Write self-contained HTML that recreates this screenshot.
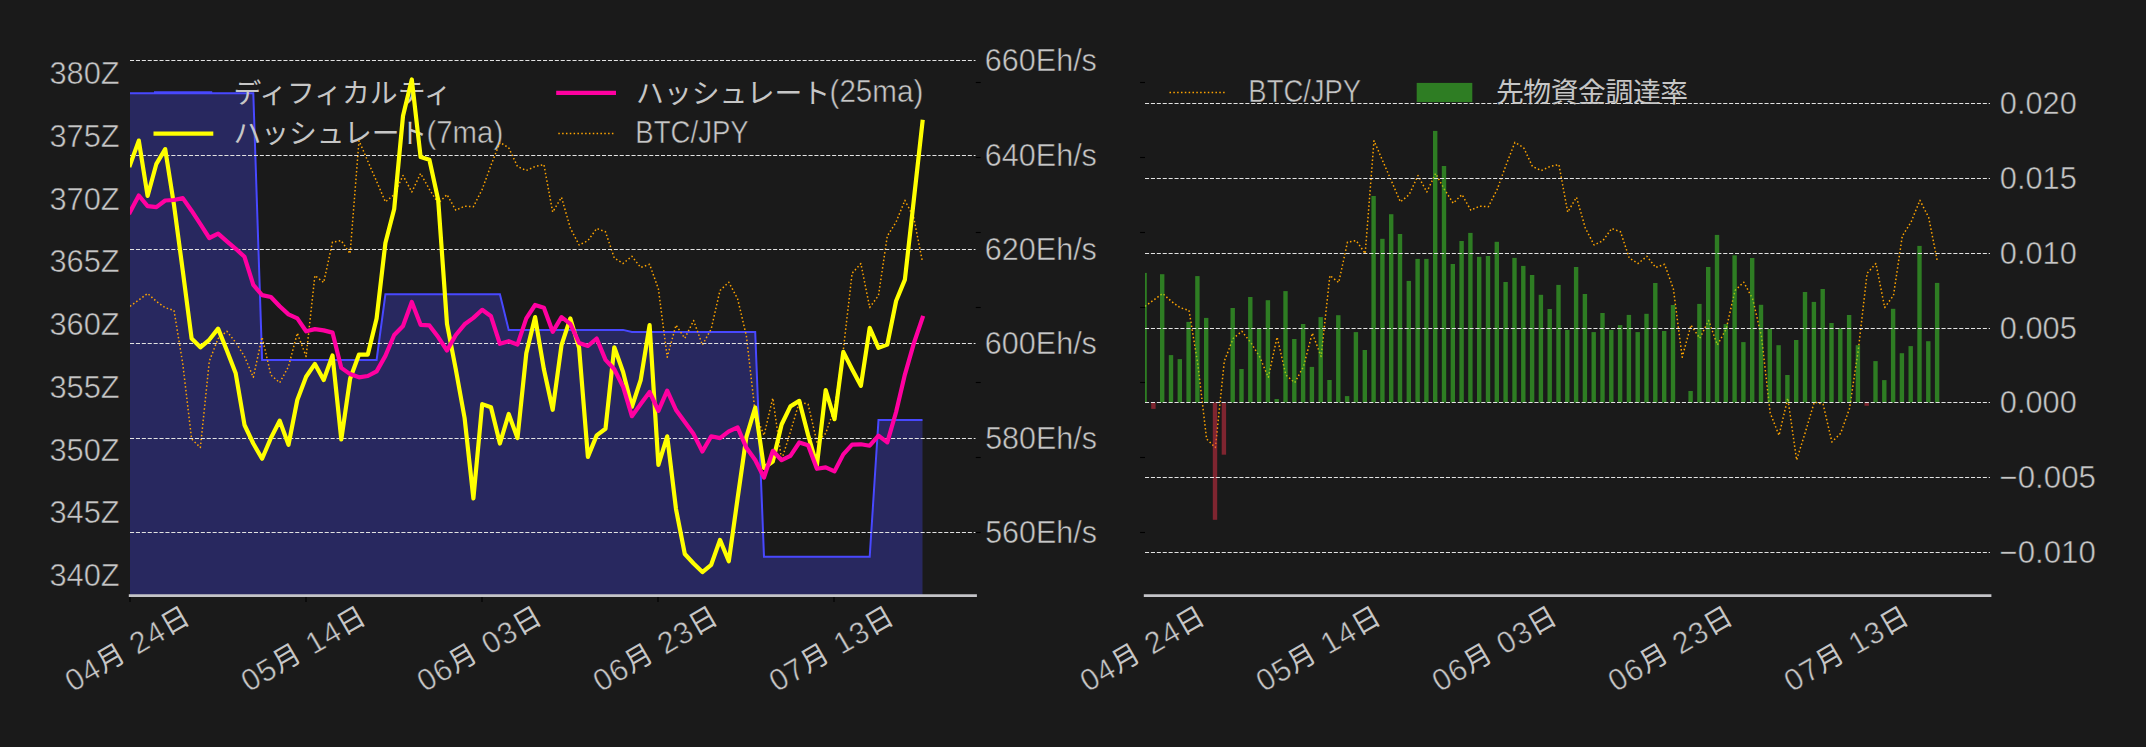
<!DOCTYPE html>
<html lang="ja"><head><meta charset="utf-8"><title>chart</title>
<style>
html,body{margin:0;padding:0;background:#1a1a1a;}
body{width:2146px;height:747px;overflow:hidden;}
svg{display:block;}
text{font-family:"Liberation Sans","Noto Sans CJK JP",sans-serif;fill:#c6c6c6;}
.j{font-family:"Liberation Sans","Noto Sans CJK JP",sans-serif;font-size:27.8px;}
.l{font-size:30.5px;stroke:#1a1a1a;stroke-width:0.5px;paint-order:fill stroke;}
.g{stroke:#e2e2e2;stroke-width:1;stroke-dasharray:4.1 1.8;fill:none;}
.tk{stroke:#000;stroke-width:1.1;}
.b{stroke:#ffa500;stroke-width:1.5;stroke-dasharray:1.5 2.33;fill:none;stroke-linejoin:round;}
</style></head><body>
<svg width="2146" height="747" viewBox="0 0 2146 747">
<rect width="2146" height="747" fill="#1a1a1a"/>
<defs>
<clipPath id="cl"><rect x="130.0" y="40" width="845.5" height="555.6"/></clipPath>
<clipPath id="cr"><rect x="1145.0" y="40" width="845.0" height="555.6"/></clipPath>
</defs>

<g clip-path="url(#cl)">
<polygon points="130.0,595.6 130.0,93.2 138.8,93.2 147.6,93.2 156.4,93.2 165.2,93.2 174.0,93.2 182.8,93.2 191.6,93.2 200.4,93.2 209.3,93.2 218.1,93.2 226.9,93.2 235.7,93.2 244.5,93.2 253.3,93.2 262.1,359.9 270.9,359.9 279.7,359.9 288.5,359.9 297.3,359.9 306.1,359.9 314.9,359.9 323.7,359.9 332.5,359.9 341.3,359.9 350.1,359.9 359.0,359.9 367.8,359.9 376.6,359.9 385.4,294.3 394.2,294.3 403.0,294.3 411.8,294.3 420.6,294.3 429.4,294.3 438.2,294.3 447.0,294.3 455.8,294.3 464.6,294.3 473.4,294.3 482.2,294.3 491.0,294.3 499.9,294.3 508.7,329.9 517.5,329.9 526.3,329.9 535.1,329.9 543.9,329.9 552.7,329.9 561.5,329.9 570.3,329.9 579.1,329.9 587.9,329.9 596.7,329.9 605.5,329.9 614.3,329.9 623.1,329.9 631.9,332.0 640.7,332.0 649.6,332.0 658.4,332.0 667.2,332.0 676.0,332.0 684.8,332.0 693.6,332.0 702.4,332.0 711.2,332.0 720.0,332.0 728.8,332.0 737.6,332.0 746.4,332.0 755.2,332.0 764.0,556.8 772.8,556.8 781.6,556.8 790.4,556.8 799.3,556.8 808.1,556.8 816.9,556.8 825.7,556.8 834.5,556.8 843.3,556.8 852.1,556.8 860.9,556.8 869.7,556.8 878.5,420.0 887.3,420.0 896.1,420.0 904.9,420.0 913.7,420.0 922.5,420.0 922.5,595.6" fill="#4a48ff" fill-opacity="0.30"/>
<polyline points="130.0,93.2 138.8,93.2 147.6,93.2 156.4,93.2 165.2,93.2 174.0,93.2 182.8,93.2 191.6,93.2 200.4,93.2 209.3,93.2 218.1,93.2 226.9,93.2 235.7,93.2 244.5,93.2 253.3,93.2 262.1,359.9 270.9,359.9 279.7,359.9 288.5,359.9 297.3,359.9 306.1,359.9 314.9,359.9 323.7,359.9 332.5,359.9 341.3,359.9 350.1,359.9 359.0,359.9 367.8,359.9 376.6,359.9 385.4,294.3 394.2,294.3 403.0,294.3 411.8,294.3 420.6,294.3 429.4,294.3 438.2,294.3 447.0,294.3 455.8,294.3 464.6,294.3 473.4,294.3 482.2,294.3 491.0,294.3 499.9,294.3 508.7,329.9 517.5,329.9 526.3,329.9 535.1,329.9 543.9,329.9 552.7,329.9 561.5,329.9 570.3,329.9 579.1,329.9 587.9,329.9 596.7,329.9 605.5,329.9 614.3,329.9 623.1,329.9 631.9,332.0 640.7,332.0 649.6,332.0 658.4,332.0 667.2,332.0 676.0,332.0 684.8,332.0 693.6,332.0 702.4,332.0 711.2,332.0 720.0,332.0 728.8,332.0 737.6,332.0 746.4,332.0 755.2,332.0 764.0,556.8 772.8,556.8 781.6,556.8 790.4,556.8 799.3,556.8 808.1,556.8 816.9,556.8 825.7,556.8 834.5,556.8 843.3,556.8 852.1,556.8 860.9,556.8 869.7,556.8 878.5,420.0 887.3,420.0 896.1,420.0 904.9,420.0 913.7,420.0 922.5,420.0" fill="none" stroke="#4848ff" stroke-width="2" stroke-linejoin="miter"/>
</g>
<line x1="155" x2="211.2" y1="92.3" y2="92.3" stroke="#4848ff" stroke-width="2" stroke-linecap="square"/>
<line x1="155.6" x2="211.2" y1="133.7" y2="133.7" stroke="#ffff00" stroke-width="4.2" stroke-linecap="square"/>
<line x1="558.3" x2="613.9" y1="92.9" y2="92.9" stroke="#ff00a0" stroke-width="4.2" stroke-linecap="square"/>
<line class="b" x1="558.3" x2="613.9" y1="133.6" y2="133.6"/>
<text class="j" x="233.4" y="102.6">ディフィカルティ</text>
<text class="j" x="233.4" y="143.4">ハッシュレート</text>
<text class="l" x="426.48" y="142.90" textLength="76.74" lengthAdjust="spacingAndGlyphs">(7ma)</text>
<text class="j" x="636.1" y="102.6">ハッシュレート</text>
<text class="l" x="829.56" y="102.10" textLength="93.77" lengthAdjust="spacingAndGlyphs">(25ma)</text>
<text class="l" x="635.34" y="142.70" textLength="113.37" lengthAdjust="spacingAndGlyphs">BTC/JPY</text>
<g clip-path="url(#cl)">
<polyline class="b" points="130.0,306.3 138.8,300.0 147.6,293.5 156.4,301.4 165.2,307.7 174.0,310.4 182.8,364.0 191.6,439.0 200.4,447.5 209.3,361.3 218.1,338.5 226.9,331.3 235.7,342.5 244.5,356.5 253.3,377.3 262.1,337.1 270.9,375.0 279.7,382.7 288.5,366.6 297.3,333.1 306.1,356.5 314.9,275.5 323.7,282.5 332.5,242.0 341.3,240.7 350.1,253.6 359.0,140.7 367.8,161.2 376.6,181.3 385.4,201.9 394.2,194.6 403.0,175.5 411.8,192.0 420.6,173.5 429.4,189.3 438.2,203.2 447.0,194.6 455.8,210.2 464.6,206.2 473.4,206.7 482.2,189.3 491.0,165.2 499.9,142.4 508.7,147.8 517.5,166.5 526.3,170.5 535.1,166.5 543.9,164.6 552.7,212.1 561.5,197.3 570.3,228.0 579.1,245.0 587.9,240.7 596.7,228.5 605.5,231.8 614.3,258.1 623.1,263.5 631.9,256.3 640.7,267.5 649.6,264.3 658.4,288.9 667.2,357.2 676.0,325.1 684.8,338.3 693.6,320.5 702.4,345.0 711.2,329.0 720.0,290.5 728.8,282.2 737.6,298.8 746.4,336.0 755.2,413.0 764.0,435.4 772.8,398.2 781.6,460.0 790.4,432.0 799.3,402.0 808.1,404.2 816.9,442.0 825.7,433.3 834.5,408.5 843.3,350.0 852.1,273.3 860.9,263.5 869.7,307.5 878.5,295.4 887.3,236.0 896.1,222.0 904.9,200.3 913.7,217.5 922.5,262.0"/>
</g>
<line class="g" x1="130.0" x2="975.5" y1="532.5" y2="532.5"/>
<line class="g" x1="130.0" x2="975.5" y1="438.5" y2="438.5"/>
<line class="g" x1="130.0" x2="975.5" y1="343.5" y2="343.5"/>
<line class="g" x1="130.0" x2="975.5" y1="249.5" y2="249.5"/>
<line class="g" x1="130.0" x2="975.5" y1="155.5" y2="155.5"/>
<line class="g" x1="130.0" x2="975.5" y1="60.5" y2="60.5"/>
<g clip-path="url(#cl)">
<polyline points="130.0,165.0 138.8,140.6 147.6,196.0 156.4,163.8 165.2,149.1 174.0,205.0 182.8,271.0 191.6,338.5 200.4,347.3 209.3,339.8 218.1,328.6 226.9,350.5 235.7,373.3 244.5,425.0 253.3,443.5 262.1,458.8 270.9,438.0 279.7,420.7 288.5,444.8 297.3,400.0 306.1,376.8 314.9,363.9 323.7,380.0 332.5,355.4 341.3,439.5 350.1,378.7 359.0,354.6 367.8,354.6 376.6,318.4 385.4,243.0 394.2,209.0 403.0,116.0 411.8,79.5 420.6,157.1 429.4,159.8 438.2,200.0 447.0,323.8 455.8,369.3 464.6,418.0 473.4,498.4 482.2,404.1 491.0,407.3 499.9,443.5 508.7,414.0 517.5,438.1 526.3,353.2 535.1,317.1 543.9,369.3 552.7,409.8 561.5,345.2 570.3,318.4 579.1,347.9 587.9,456.9 596.7,435.4 605.5,428.8 614.3,347.3 623.1,372.0 631.9,406.8 640.7,380.0 649.6,325.1 658.4,464.9 667.2,436.3 676.0,509.1 684.8,554.0 693.6,563.5 702.4,572.1 711.2,564.8 720.0,539.9 728.8,561.3 737.6,498.4 746.4,436.8 755.2,407.5 764.0,468.0 772.8,461.5 781.6,424.5 790.4,406.4 799.3,400.9 808.1,435.0 816.9,465.3 825.7,390.0 834.5,419.2 843.3,351.9 852.1,369.3 860.9,385.8 869.7,327.8 878.5,347.9 887.3,344.6 896.1,301.0 904.9,279.6 913.7,201.0 922.5,121.8" fill="none" stroke="#ffff00" stroke-width="4.2" stroke-linejoin="round" stroke-linecap="square"/>
<polyline points="130.0,212.1 138.8,195.5 147.6,206.2 156.4,207.2 165.2,200.5 174.0,200.0 182.8,198.1 191.6,210.7 200.4,224.1 209.3,238.0 218.1,233.6 226.9,241.3 235.7,248.8 244.5,256.8 253.3,284.9 262.1,295.1 270.9,297.0 279.7,306.3 288.5,314.4 297.3,318.4 306.1,331.3 314.9,329.1 323.7,330.4 332.5,332.6 341.3,367.9 350.1,374.1 359.0,377.3 367.8,376.0 376.6,371.4 385.4,355.9 394.2,335.0 403.0,326.0 411.8,302.0 420.6,324.8 429.4,325.4 438.2,337.1 447.0,350.5 455.8,335.0 464.6,324.3 473.4,317.9 482.2,309.8 491.0,316.3 499.9,343.8 508.7,341.2 517.5,344.6 526.3,318.4 535.1,305.0 543.9,307.7 552.7,331.8 561.5,317.1 570.3,323.8 579.1,343.0 587.9,346.0 596.7,338.5 605.5,359.9 614.3,369.3 623.1,386.7 631.9,416.2 640.7,404.1 649.6,392.0 658.4,410.8 667.2,390.7 676.0,410.0 684.8,422.0 693.6,434.1 702.4,451.5 711.2,436.3 720.0,438.1 728.8,431.4 737.6,427.4 746.4,447.8 755.2,460.0 764.0,477.5 772.8,450.8 781.6,460.2 790.4,455.9 799.3,442.5 808.1,445.2 816.9,468.8 825.7,467.4 834.5,471.4 843.3,454.4 852.1,444.7 860.9,444.3 869.7,445.7 878.5,435.6 887.3,442.4 896.1,412.0 904.9,374.6 913.7,343.8 922.5,317.9" fill="none" stroke="#ff00a0" stroke-width="4.2" stroke-linejoin="round" stroke-linecap="square"/>
</g>
<line x1="128.8" x2="976.9" y1="595.6" y2="595.6" stroke="#c4c4c8" stroke-width="2.8"/>
<line x1="1143.8" x2="1991.4" y1="595.6" y2="595.6" stroke="#c4c4c8" stroke-width="2.8"/>
<line class="tk" x1="130.0" x2="130.0" y1="597.0" y2="601.9"/>
<text class="j" x="127.2" y="648.4" text-anchor="middle" dominant-baseline="central" textLength="138.6" lengthAdjust="spacing" transform="rotate(-30 127.2 648.4)"><tspan class="l">04</tspan>月<tspan class="l"> 24</tspan>日</text>
<line class="tk" x1="306.0" x2="306.0" y1="597.0" y2="601.9"/>
<text class="j" x="303.2" y="648.4" text-anchor="middle" dominant-baseline="central" textLength="138.6" lengthAdjust="spacing" transform="rotate(-30 303.2 648.4)"><tspan class="l">05</tspan>月<tspan class="l"> 14</tspan>日</text>
<line class="tk" x1="482.0" x2="482.0" y1="597.0" y2="601.9"/>
<text class="j" x="479.2" y="648.4" text-anchor="middle" dominant-baseline="central" textLength="138.6" lengthAdjust="spacing" transform="rotate(-30 479.2 648.4)"><tspan class="l">06</tspan>月<tspan class="l"> 03</tspan>日</text>
<line class="tk" x1="658.0" x2="658.0" y1="597.0" y2="601.9"/>
<text class="j" x="655.2" y="648.4" text-anchor="middle" dominant-baseline="central" textLength="138.6" lengthAdjust="spacing" transform="rotate(-30 655.2 648.4)"><tspan class="l">06</tspan>月<tspan class="l"> 23</tspan>日</text>
<line class="tk" x1="834.0" x2="834.0" y1="597.0" y2="601.9"/>
<text class="j" x="831.2" y="648.4" text-anchor="middle" dominant-baseline="central" textLength="138.6" lengthAdjust="spacing" transform="rotate(-30 831.2 648.4)"><tspan class="l">07</tspan>月<tspan class="l"> 13</tspan>日</text>
<text class="j" x="1142.2" y="648.4" text-anchor="middle" dominant-baseline="central" textLength="138.6" lengthAdjust="spacing" transform="rotate(-30 1142.2 648.4)"><tspan class="l">04</tspan>月<tspan class="l"> 24</tspan>日</text>
<text class="j" x="1318.2" y="648.4" text-anchor="middle" dominant-baseline="central" textLength="138.6" lengthAdjust="spacing" transform="rotate(-30 1318.2 648.4)"><tspan class="l">05</tspan>月<tspan class="l"> 14</tspan>日</text>
<text class="j" x="1494.2" y="648.4" text-anchor="middle" dominant-baseline="central" textLength="138.6" lengthAdjust="spacing" transform="rotate(-30 1494.2 648.4)"><tspan class="l">06</tspan>月<tspan class="l"> 03</tspan>日</text>
<text class="j" x="1670.2" y="648.4" text-anchor="middle" dominant-baseline="central" textLength="138.6" lengthAdjust="spacing" transform="rotate(-30 1670.2 648.4)"><tspan class="l">06</tspan>月<tspan class="l"> 23</tspan>日</text>
<text class="j" x="1846.2" y="648.4" text-anchor="middle" dominant-baseline="central" textLength="138.6" lengthAdjust="spacing" transform="rotate(-30 1846.2 648.4)"><tspan class="l">07</tspan>月<tspan class="l"> 13</tspan>日</text>
<text class="l" x="49.43" y="84.20" textLength="70.24" lengthAdjust="spacingAndGlyphs">380Z</text>
<text class="l" x="49.43" y="146.93" textLength="70.24" lengthAdjust="spacingAndGlyphs">375Z</text>
<text class="l" x="49.43" y="209.66" textLength="70.24" lengthAdjust="spacingAndGlyphs">370Z</text>
<text class="l" x="49.43" y="272.39" textLength="70.24" lengthAdjust="spacingAndGlyphs">365Z</text>
<text class="l" x="49.43" y="335.12" textLength="70.24" lengthAdjust="spacingAndGlyphs">360Z</text>
<text class="l" x="49.43" y="397.85" textLength="70.24" lengthAdjust="spacingAndGlyphs">355Z</text>
<text class="l" x="49.43" y="460.58" textLength="70.24" lengthAdjust="spacingAndGlyphs">350Z</text>
<text class="l" x="49.43" y="523.31" textLength="70.24" lengthAdjust="spacingAndGlyphs">345Z</text>
<text class="l" x="49.43" y="586.04" textLength="70.24" lengthAdjust="spacingAndGlyphs">340Z</text>
<text class="l" x="984.85" y="71.10" textLength="112.05" lengthAdjust="spacingAndGlyphs">660Eh/s</text>
<text class="l" x="984.85" y="166.10" textLength="112.05" lengthAdjust="spacingAndGlyphs">640Eh/s</text>
<text class="l" x="984.85" y="260.10" textLength="112.05" lengthAdjust="spacingAndGlyphs">620Eh/s</text>
<text class="l" x="984.85" y="354.10" textLength="112.05" lengthAdjust="spacingAndGlyphs">600Eh/s</text>
<text class="l" x="985.18" y="449.10" textLength="111.72" lengthAdjust="spacingAndGlyphs">580Eh/s</text>
<text class="l" x="985.18" y="543.10" textLength="111.72" lengthAdjust="spacingAndGlyphs">560Eh/s</text>
<line class="tk" x1="975.8" x2="980.7" y1="82.5" y2="82.5"/>
<line class="tk" x1="1140.1" x2="1145.0" y1="82.5" y2="82.5"/>
<line class="tk" x1="975.8" x2="980.7" y1="157.5" y2="157.5"/>
<line class="tk" x1="1140.1" x2="1145.0" y1="157.5" y2="157.5"/>
<line class="tk" x1="975.8" x2="980.7" y1="232.5" y2="232.5"/>
<line class="tk" x1="1140.1" x2="1145.0" y1="232.5" y2="232.5"/>
<line class="tk" x1="975.8" x2="980.7" y1="307.5" y2="307.5"/>
<line class="tk" x1="1140.1" x2="1145.0" y1="307.5" y2="307.5"/>
<line class="tk" x1="975.8" x2="980.7" y1="382.5" y2="382.5"/>
<line class="tk" x1="1140.1" x2="1145.0" y1="382.5" y2="382.5"/>
<line class="tk" x1="975.8" x2="980.7" y1="457.5" y2="457.5"/>
<line class="tk" x1="1140.1" x2="1145.0" y1="457.5" y2="457.5"/>
<line class="tk" x1="975.8" x2="980.7" y1="532.5" y2="532.5"/>
<line class="tk" x1="1140.1" x2="1145.0" y1="532.5" y2="532.5"/>
<g clip-path="url(#cr)">
<polyline class="b" points="1145.0,306.3 1153.8,300.0 1162.6,293.5 1171.4,301.4 1180.2,307.7 1189.0,310.4 1197.8,364.0 1206.6,439.0 1215.4,447.5 1224.3,361.3 1233.1,338.5 1241.9,331.3 1250.7,342.5 1259.5,356.5 1268.3,377.3 1277.1,337.1 1285.9,375.0 1294.7,382.7 1303.5,366.6 1312.3,333.1 1321.1,356.5 1329.9,275.5 1338.7,282.5 1347.5,242.0 1356.3,240.7 1365.2,253.6 1374.0,140.7 1382.8,161.2 1391.6,181.3 1400.4,201.9 1409.2,194.6 1418.0,175.5 1426.8,192.0 1435.6,173.5 1444.4,189.3 1453.2,203.2 1462.0,194.6 1470.8,210.2 1479.6,206.2 1488.4,206.7 1497.2,189.3 1506.0,165.2 1514.9,142.4 1523.7,147.8 1532.5,166.5 1541.3,170.5 1550.1,166.5 1558.9,164.6 1567.7,212.1 1576.5,197.3 1585.3,228.0 1594.1,245.0 1602.9,240.7 1611.7,228.5 1620.5,231.8 1629.3,258.1 1638.1,263.5 1646.9,256.3 1655.7,267.5 1664.6,264.3 1673.4,288.9 1682.2,357.2 1691.0,325.1 1699.8,338.3 1708.6,320.5 1717.4,345.0 1726.2,329.0 1735.0,290.5 1743.8,282.2 1752.6,298.8 1761.4,336.0 1770.2,413.0 1779.0,435.4 1787.8,398.2 1796.6,460.0 1805.4,432.0 1814.3,402.0 1823.1,404.2 1831.9,442.0 1840.7,433.3 1849.5,408.5 1858.3,350.0 1867.1,273.3 1875.9,263.5 1884.7,307.5 1893.5,295.4 1902.3,236.0 1911.1,222.0 1919.9,200.3 1928.7,217.5 1937.5,262.0"/>
<rect x="1142.4" y="272.9" width="4.4" height="129.6" fill="#42e02c" fill-opacity="0.5"/>
<rect x="1151.2" y="402.5" width="4.4" height="6.4" fill="#e43046" fill-opacity="0.5"/>
<rect x="1160.0" y="274.2" width="4.4" height="128.3" fill="#42e02c" fill-opacity="0.5"/>
<rect x="1168.8" y="355.1" width="4.4" height="47.4" fill="#42e02c" fill-opacity="0.5"/>
<rect x="1177.6" y="359.1" width="4.4" height="43.4" fill="#42e02c" fill-opacity="0.5"/>
<rect x="1186.4" y="321.9" width="4.4" height="80.6" fill="#42e02c" fill-opacity="0.5"/>
<rect x="1195.2" y="276.1" width="4.4" height="126.4" fill="#42e02c" fill-opacity="0.5"/>
<rect x="1204.0" y="317.9" width="4.4" height="84.6" fill="#42e02c" fill-opacity="0.5"/>
<rect x="1212.8" y="402.5" width="4.4" height="117.3" fill="#e43046" fill-opacity="0.5"/>
<rect x="1221.7" y="402.5" width="4.4" height="52.2" fill="#e43046" fill-opacity="0.5"/>
<rect x="1230.5" y="308.0" width="4.4" height="94.5" fill="#42e02c" fill-opacity="0.5"/>
<rect x="1239.3" y="369.0" width="4.4" height="33.5" fill="#42e02c" fill-opacity="0.5"/>
<rect x="1248.1" y="297.0" width="4.4" height="105.5" fill="#42e02c" fill-opacity="0.5"/>
<rect x="1256.9" y="328.6" width="4.4" height="73.9" fill="#42e02c" fill-opacity="0.5"/>
<rect x="1265.7" y="300.2" width="4.4" height="102.3" fill="#42e02c" fill-opacity="0.5"/>
<rect x="1274.5" y="399.0" width="4.4" height="3.5" fill="#42e02c" fill-opacity="0.5"/>
<rect x="1283.3" y="291.1" width="4.4" height="111.4" fill="#42e02c" fill-opacity="0.5"/>
<rect x="1292.1" y="339.0" width="4.4" height="63.5" fill="#42e02c" fill-opacity="0.5"/>
<rect x="1300.9" y="324.0" width="4.4" height="78.5" fill="#42e02c" fill-opacity="0.5"/>
<rect x="1309.7" y="366.9" width="4.4" height="35.6" fill="#42e02c" fill-opacity="0.5"/>
<rect x="1318.5" y="317.1" width="4.4" height="85.4" fill="#42e02c" fill-opacity="0.5"/>
<rect x="1327.3" y="380.0" width="4.4" height="22.5" fill="#42e02c" fill-opacity="0.5"/>
<rect x="1336.1" y="315.2" width="4.4" height="87.3" fill="#42e02c" fill-opacity="0.5"/>
<rect x="1344.9" y="396.1" width="4.4" height="6.4" fill="#42e02c" fill-opacity="0.5"/>
<rect x="1353.7" y="332.1" width="4.4" height="70.4" fill="#42e02c" fill-opacity="0.5"/>
<rect x="1362.6" y="350.0" width="4.4" height="52.5" fill="#42e02c" fill-opacity="0.5"/>
<rect x="1371.4" y="196.0" width="4.4" height="206.5" fill="#42e02c" fill-opacity="0.5"/>
<rect x="1380.2" y="238.8" width="4.4" height="163.7" fill="#42e02c" fill-opacity="0.5"/>
<rect x="1389.0" y="214.2" width="4.4" height="188.3" fill="#42e02c" fill-opacity="0.5"/>
<rect x="1397.8" y="234.0" width="4.4" height="168.5" fill="#42e02c" fill-opacity="0.5"/>
<rect x="1406.6" y="280.9" width="4.4" height="121.6" fill="#42e02c" fill-opacity="0.5"/>
<rect x="1415.4" y="258.9" width="4.4" height="143.6" fill="#42e02c" fill-opacity="0.5"/>
<rect x="1424.2" y="258.9" width="4.4" height="143.6" fill="#42e02c" fill-opacity="0.5"/>
<rect x="1433.0" y="130.9" width="4.4" height="271.6" fill="#42e02c" fill-opacity="0.5"/>
<rect x="1441.8" y="166.0" width="4.4" height="236.5" fill="#42e02c" fill-opacity="0.5"/>
<rect x="1450.6" y="264.0" width="4.4" height="138.5" fill="#42e02c" fill-opacity="0.5"/>
<rect x="1459.4" y="241.0" width="4.4" height="161.5" fill="#42e02c" fill-opacity="0.5"/>
<rect x="1468.2" y="232.9" width="4.4" height="169.6" fill="#42e02c" fill-opacity="0.5"/>
<rect x="1477.0" y="256.8" width="4.4" height="145.7" fill="#42e02c" fill-opacity="0.5"/>
<rect x="1485.8" y="256.0" width="4.4" height="146.5" fill="#42e02c" fill-opacity="0.5"/>
<rect x="1494.6" y="241.8" width="4.4" height="160.7" fill="#42e02c" fill-opacity="0.5"/>
<rect x="1503.4" y="282.0" width="4.4" height="120.5" fill="#42e02c" fill-opacity="0.5"/>
<rect x="1512.3" y="257.9" width="4.4" height="144.6" fill="#42e02c" fill-opacity="0.5"/>
<rect x="1521.1" y="265.9" width="4.4" height="136.6" fill="#42e02c" fill-opacity="0.5"/>
<rect x="1529.9" y="275.0" width="4.4" height="127.5" fill="#42e02c" fill-opacity="0.5"/>
<rect x="1538.7" y="294.8" width="4.4" height="107.7" fill="#42e02c" fill-opacity="0.5"/>
<rect x="1547.5" y="309.0" width="4.4" height="93.5" fill="#42e02c" fill-opacity="0.5"/>
<rect x="1556.3" y="284.9" width="4.4" height="117.6" fill="#42e02c" fill-opacity="0.5"/>
<rect x="1565.1" y="329.9" width="4.4" height="72.6" fill="#42e02c" fill-opacity="0.5"/>
<rect x="1573.9" y="267.0" width="4.4" height="135.5" fill="#42e02c" fill-opacity="0.5"/>
<rect x="1582.7" y="294.0" width="4.4" height="108.5" fill="#42e02c" fill-opacity="0.5"/>
<rect x="1591.5" y="332.1" width="4.4" height="70.4" fill="#42e02c" fill-opacity="0.5"/>
<rect x="1600.3" y="313.0" width="4.4" height="89.5" fill="#42e02c" fill-opacity="0.5"/>
<rect x="1609.1" y="329.9" width="4.4" height="72.6" fill="#42e02c" fill-opacity="0.5"/>
<rect x="1617.9" y="325.1" width="4.4" height="77.4" fill="#42e02c" fill-opacity="0.5"/>
<rect x="1626.7" y="314.9" width="4.4" height="87.6" fill="#42e02c" fill-opacity="0.5"/>
<rect x="1635.5" y="332.1" width="4.4" height="70.4" fill="#42e02c" fill-opacity="0.5"/>
<rect x="1644.3" y="313.8" width="4.4" height="88.7" fill="#42e02c" fill-opacity="0.5"/>
<rect x="1653.1" y="283.0" width="4.4" height="119.5" fill="#42e02c" fill-opacity="0.5"/>
<rect x="1662.0" y="331.0" width="4.4" height="71.5" fill="#42e02c" fill-opacity="0.5"/>
<rect x="1670.8" y="305.0" width="4.4" height="97.5" fill="#42e02c" fill-opacity="0.5"/>
<rect x="1688.4" y="391.0" width="4.4" height="11.5" fill="#42e02c" fill-opacity="0.5"/>
<rect x="1697.2" y="303.9" width="4.4" height="98.6" fill="#42e02c" fill-opacity="0.5"/>
<rect x="1706.0" y="267.0" width="4.4" height="135.5" fill="#42e02c" fill-opacity="0.5"/>
<rect x="1714.8" y="234.9" width="4.4" height="167.6" fill="#42e02c" fill-opacity="0.5"/>
<rect x="1723.6" y="324.1" width="4.4" height="78.4" fill="#42e02c" fill-opacity="0.5"/>
<rect x="1732.4" y="255.3" width="4.4" height="147.2" fill="#42e02c" fill-opacity="0.5"/>
<rect x="1741.2" y="342.1" width="4.4" height="60.4" fill="#42e02c" fill-opacity="0.5"/>
<rect x="1750.0" y="258.0" width="4.4" height="144.5" fill="#42e02c" fill-opacity="0.5"/>
<rect x="1758.8" y="304.8" width="4.4" height="97.7" fill="#42e02c" fill-opacity="0.5"/>
<rect x="1767.6" y="328.9" width="4.4" height="73.6" fill="#42e02c" fill-opacity="0.5"/>
<rect x="1776.4" y="345.2" width="4.4" height="57.3" fill="#42e02c" fill-opacity="0.5"/>
<rect x="1785.2" y="375.0" width="4.4" height="27.5" fill="#42e02c" fill-opacity="0.5"/>
<rect x="1794.0" y="340.0" width="4.4" height="62.5" fill="#42e02c" fill-opacity="0.5"/>
<rect x="1802.8" y="292.0" width="4.4" height="110.5" fill="#42e02c" fill-opacity="0.5"/>
<rect x="1811.7" y="301.9" width="4.4" height="100.6" fill="#42e02c" fill-opacity="0.5"/>
<rect x="1820.5" y="289.0" width="4.4" height="113.5" fill="#42e02c" fill-opacity="0.5"/>
<rect x="1829.3" y="323.0" width="4.4" height="79.5" fill="#42e02c" fill-opacity="0.5"/>
<rect x="1838.1" y="328.1" width="4.4" height="74.4" fill="#42e02c" fill-opacity="0.5"/>
<rect x="1846.9" y="315.0" width="4.4" height="87.5" fill="#42e02c" fill-opacity="0.5"/>
<rect x="1855.7" y="345.2" width="4.4" height="57.3" fill="#42e02c" fill-opacity="0.5"/>
<rect x="1864.5" y="402.5" width="4.4" height="3.3" fill="#e43046" fill-opacity="0.5"/>
<rect x="1873.3" y="361.1" width="4.4" height="41.4" fill="#42e02c" fill-opacity="0.5"/>
<rect x="1882.1" y="380.1" width="4.4" height="22.4" fill="#42e02c" fill-opacity="0.5"/>
<rect x="1890.9" y="308.8" width="4.4" height="93.7" fill="#42e02c" fill-opacity="0.5"/>
<rect x="1899.7" y="353.2" width="4.4" height="49.3" fill="#42e02c" fill-opacity="0.5"/>
<rect x="1908.5" y="346.1" width="4.4" height="56.4" fill="#42e02c" fill-opacity="0.5"/>
<rect x="1917.3" y="245.9" width="4.4" height="156.6" fill="#42e02c" fill-opacity="0.5"/>
<rect x="1926.1" y="341.2" width="4.4" height="61.3" fill="#42e02c" fill-opacity="0.5"/>
<rect x="1934.9" y="282.9" width="4.4" height="119.6" fill="#42e02c" fill-opacity="0.5"/>
</g>
<line class="g" x1="1145.0" x2="1990.0" y1="552.5" y2="552.5"/>
<line class="g" x1="1145.0" x2="1990.0" y1="477.5" y2="477.5"/>
<line class="g" x1="1145.0" x2="1990.0" y1="402.5" y2="402.5"/>
<line class="g" x1="1145.0" x2="1990.0" y1="328.5" y2="328.5"/>
<line class="g" x1="1145.0" x2="1990.0" y1="253.5" y2="253.5"/>
<line class="g" x1="1145.0" x2="1990.0" y1="178.5" y2="178.5"/>
<line class="g" x1="1145.0" x2="1990.0" y1="103.5" y2="103.5"/>
<text class="l" x="1999.46" y="563.00" textLength="96.36" lengthAdjust="spacingAndGlyphs">−0.010</text>
<text class="l" x="1999.46" y="488.00" textLength="96.45" lengthAdjust="spacingAndGlyphs">−0.005</text>
<text class="l" x="1999.80" y="413.00" textLength="77.00" lengthAdjust="spacingAndGlyphs">0.000</text>
<text class="l" x="1999.80" y="339.00" textLength="77.10" lengthAdjust="spacingAndGlyphs">0.005</text>
<text class="l" x="1999.80" y="264.00" textLength="77.00" lengthAdjust="spacingAndGlyphs">0.010</text>
<text class="l" x="1999.80" y="189.00" textLength="77.10" lengthAdjust="spacingAndGlyphs">0.015</text>
<text class="l" x="1999.80" y="114.00" textLength="77.00" lengthAdjust="spacingAndGlyphs">0.020</text>
<line class="b" x1="1169.5" x2="1225.1" y1="92.4" y2="92.4"/>
<text class="l" x="1248.35" y="101.70" textLength="112.75" lengthAdjust="spacingAndGlyphs">BTC/JPY</text>
<rect x="1416.7" y="82.9" width="55.6" height="19.2" fill="#42e02c" fill-opacity="0.5"/>
<text class="j" x="1495.9" y="102.2" letter-spacing="-0.4">先物資金調達率</text>
</svg></body></html>
